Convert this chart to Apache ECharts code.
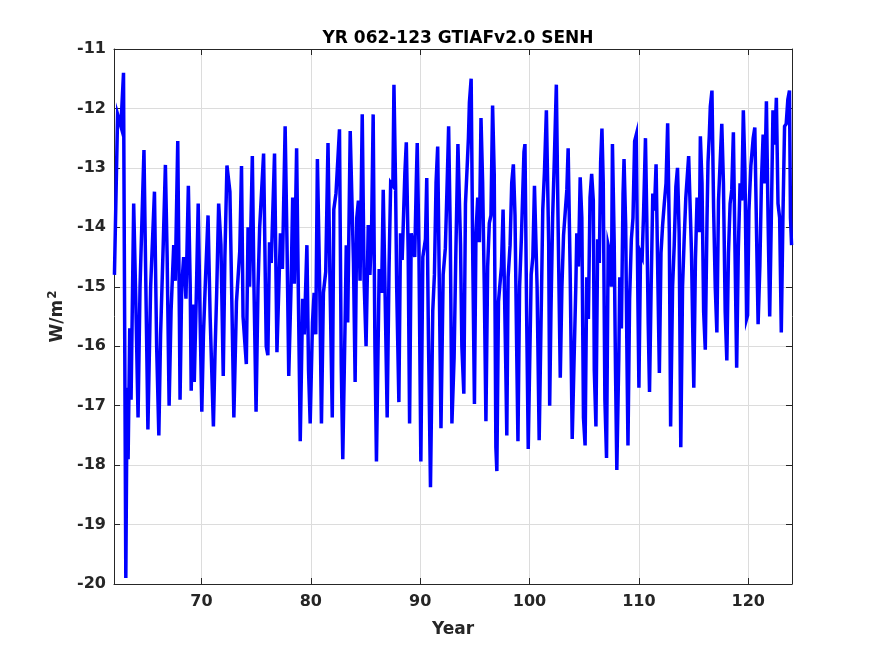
<!DOCTYPE html>
<html>
<head>
<meta charset="utf-8">
<script src="https://cdn.jsdelivr.net/npm/echarts@6/dist/echarts.min.js"></script>
<style>html,body{margin:0;padding:0;background:#fff}#c{width:875px;height:656px}</style>
</head>
<body>
<div id="c"></div>
<script>
var titleText = 'YR 062-123 GTIAFv2.0 SENH';
var xTicks = [70, 80, 90, 100, 110, 120];
var yTicks = [-20, -19, -18, -17, -16, -15, -14, -13, -12, -11];

var years = [
62.04,62.33,62.63,62.87,63.08,63.2,63.29,63.44,63.56,63.8,64.0,64.2,64.38,64.74,64.93,65.1,65.35,65.7,65.9,66.1,
66.26,66.5,66.7,66.86,67.04,67.22,67.46,67.6,67.83,67.98,68.04,68.19,68.37,68.58,68.8,68.97,69.06,69.21,69.34,69.52,
69.7,69.88,70.03,70.18,70.36,70.6,70.79,71.09,71.24,71.39,71.57,71.78,71.99,72.14,72.33,72.6,72.96,73.2,73.5,73.66,
73.8,74.1,74.26,74.4,74.65,74.8,74.99,75.17,75.32,75.68,75.92,76.07,76.22,76.38,76.68,76.9,77.07,77.22,77.4,77.65,
77.83,77.98,78.19,78.34,78.49,78.7,78.85,79.03,79.25,79.4,79.64,79.79,79.94,80.15,80.3,80.45,80.6,80.82,80.97,81.15,
81.36,81.57,81.75,81.96,82.1,82.3,82.62,82.78,82.92,83.15,83.24,83.37,83.6,83.9,84.05,84.2,84.35,84.5,84.7,84.87,
85.05,85.25,85.4,85.55,85.7,85.86,86.0,86.25,86.47,86.62,86.77,86.98,87.15,87.3,87.5,87.6,87.75,87.85,88.05,88.2,
88.35,88.6,88.73,88.9,89.03,89.18,89.5,89.64,89.73,89.88,90.06,90.24,90.48,90.6,90.75,90.94,91.15,91.3,91.45,91.6,
91.75,91.9,92.1,92.3,92.5,92.6,92.75,92.9,93.1,93.26,93.45,93.69,93.81,93.99,94.14,94.29,94.41,94.5,94.66,94.8,
94.96,95.1,95.26,95.41,95.56,95.71,95.86,96.01,96.17,96.32,96.47,96.62,96.77,96.92,97.01,97.16,97.28,97.43,97.58,97.67,
97.83,97.92,98.04,98.22,98.37,98.52,98.67,98.82,98.94,99.09,99.25,99.49,99.58,99.73,99.88,100.03,100.15,100.3,100.45,100.57,
100.69,100.88,101.06,101.21,101.36,101.54,101.75,101.84,101.96,102.11,102.26,102.45,102.6,102.81,102.96,103.11,103.26,103.41,103.53,103.71,
103.9,104.23,104.32,104.47,104.63,104.78,104.93,105.08,105.23,105.38,105.53,105.68,105.83,105.92,106.07,106.23,106.38,106.5,106.62,106.74,
106.89,107.04,107.19,107.34,107.49,107.58,107.74,107.86,107.98,108.16,108.25,108.4,108.55,108.64,108.79,108.91,109.0,109.15,109.31,109.46,
109.61,109.76,109.91,110.0,110.15,110.3,110.42,110.6,110.72,110.85,110.97,111.12,111.27,111.42,111.57,111.72,111.87,112.02,112.17,112.32,
112.48,112.63,112.78,112.9,113.08,113.23,113.38,113.53,113.68,113.83,113.99,114.14,114.29,114.55,114.81,114.93,115.02,115.17,115.32,115.53,
115.62,115.77,115.92,116.07,116.23,116.32,116.44,116.53,116.68,116.83,116.98,117.13,117.28,117.43,117.58,117.73,117.89,118.04,118.19,118.34,
118.49,118.64,118.79,118.94,119.09,119.25,119.4,119.55,119.7,119.85,119.94,120.06,120.24,120.45,120.6,120.75,120.9,121.06,121.21,121.36,
121.51,121.66,121.81,121.96,122.11,122.26,122.42,122.57,122.72,122.87,123.02,123.17,123.32,123.47,123.62,123.77,123.86,123.96
];

var senh = [
-14.8,-12.1,-12.3,-11.4,-19.9,-16.7,-17.9,-15.7,-16.9,-13.6,-15.3,-17.2,-15.0,-12.7,-15.2,-17.4,-15.0,-13.4,-16.0,-17.5,
-15.8,-14.3,-12.95,-14.5,-17.0,-15.4,-14.3,-14.9,-12.55,-15.5,-16.9,-15.0,-14.5,-15.2,-13.3,-15.0,-16.75,-15.3,-16.6,-15.2,
-13.6,-15.6,-17.1,-15.8,-14.9,-13.8,-15.5,-17.35,-16.1,-15.1,-13.6,-14.3,-16.5,-14.5,-12.96,-13.4,-17.2,-15.25,-14.4,-12.97,
-15.5,-16.3,-14.0,-15.0,-12.8,-15.0,-17.1,-15.0,-14.0,-12.76,-16.0,-16.15,-14.25,-14.6,-12.76,-16.1,-16.1,-14.1,-14.7,-12.3,
-14.4,-16.5,-15.0,-13.5,-14.95,-12.67,-15.0,-17.6,-15.2,-15.8,-14.3,-16.4,-17.3,-15.6,-15.1,-15.8,-12.85,-15.1,-17.3,-15.1,
-14.75,-12.58,-14.9,-17.2,-13.7,-13.43,-12.35,-16.3,-17.9,-15.4,-14.3,-15.6,-12.38,-14.6,-16.6,-13.84,-13.55,-14.9,-12.1,-14.9,
-16.0,-13.96,-14.8,-14.1,-12.1,-16.0,-17.94,-14.7,-15.1,-13.37,-14.9,-17.2,-14.7,-13.25,-13.3,-11.6,-13.3,-15.0,-16.94,-14.1,
-14.55,-13.08,-12.57,-14.4,-17.3,-14.1,-14.5,-13.25,-12.58,-14.3,-17.94,-14.5,-14.2,-13.17,-15.8,-18.37,-15.4,-14.8,-13.25,-12.64,
-15.0,-17.38,-14.8,-14.35,-13.02,-12.3,-14.1,-17.3,-16.2,-14.43,-12.6,-14.3,-16.0,-16.8,-13.6,-13.0,-12.5,-11.9,-11.5,-14.4,
-16.97,-14.1,-13.5,-14.25,-12.16,-13.25,-15.0,-17.26,-14.66,-13.93,-13.8,-11.95,-13.1,-17.7,-18.1,-15.25,-15.25,-14.66,-13.7,-13.7,
-16.4,-17.5,-14.84,-14.3,-13.25,-12.94,-13.8,-16.0,-17.6,-15.0,-14.2,-12.73,-12.6,-15.4,-17.73,-16.1,-14.8,-14.5,-13.3,-13.28,
-15.0,-17.58,-15.5,-13.7,-13.08,-12.03,-14.28,-17.0,-15.4,-13.84,-12.9,-11.6,-13.8,-16.53,-15.0,-14.13,-14.13,-13.37,-12.67,-14.7,
-17.56,-15.0,-14.1,-14.66,-13.16,-13.84,-17.2,-17.67,-14.84,-15.54,-13.5,-13.1,-13.55,-16.4,-17.35,-14.2,-14.6,-12.9,-12.34,-13.26,
-16.9,-17.88,-14.3,-14.43,-15.0,-12.6,-14.25,-16.4,-18.08,-16.2,-14.84,-15.7,-13.43,-12.85,-13.96,-16.2,-17.67,-15.2,-14.2,-13.84,
-12.55,-12.44,-15.25,-16.7,-14.43,-14.5,-13.8,-12.5,-13.84,-15.6,-16.77,-15.0,-13.43,-13.72,-12.94,-14.72,-16.45,-14.43,-13.96,-13.6,
-13.26,-12.25,-14.1,-17.35,-15.0,-14.3,-13.32,-13.0,-14.1,-17.7,-15.0,-14.2,-13.5,-12.8,-14.43,-15.8,-16.7,-14.54,-13.5,-14.08,
-12.47,-13.26,-15.42,-16.06,-13.84,-12.9,-12.44,-11.97,-11.7,-13.67,-15.0,-15.77,-13.55,-12.9,-12.26,-13.26,-15.42,-16.24,-14.43,-13.6,
-13.37,-12.4,-14.43,-16.36,-14.37,-13.26,-13.55,-12.03,-13.08,-15.54,-15.48,-13.72,-12.96,-12.5,-12.32,-14.0,-15.63,-14.66,-13.2,-12.44,
-13.26,-11.88,-13.84,-15.5,-13.84,-12.03,-12.61,-11.82,-13.6,-13.84,-15.77,-13.84,-12.3,-12.26,-11.85,-11.7,-13.84,-14.3
];

var seriesData = years.map(function (y, i) { return [y, senh[i]]; });

var axisColor = '#262626';
var chart = echarts.init(document.getElementById('c'), null, {renderer: 'canvas'});
var labelFont = {color: axisColor, fontFamily: 'DejaVu Sans', fontWeight: 'bold', fontSize: 16};

chart.setOption({
  animation: false,
  backgroundColor: '#ffffff',
  title: {
    text: titleText, left: 453, top: 25, textAlign: 'center',
    textStyle: {color: '#000', fontFamily: 'DejaVu Sans', fontWeight: 'bold', fontSize: 17}
  },
  grid: {left: 114, right: 83, top: 49, bottom: 72, containLabel: false},
  xAxis: [{
    type: 'value', min: 62, max: 124,
    name: 'Year', nameLocation: 'middle', nameGap: 37,
    nameTextStyle: {color: axisColor, fontFamily: 'DejaVu Sans', fontWeight: 'bold', fontSize: 17},
    axisLine: {show: true, onZero: false, lineStyle: {color: axisColor, width: 1}},
    axisTick: {show: true, inside: true, length: 6, customValues: xTicks, lineStyle: {color: axisColor}},
    axisLabel: Object.assign({customValues: xTicks, margin: 10}, labelFont),
    splitLine: {show: true, lineStyle: {color: '#dcdcdc', width: 1}}
  }, {
    type: 'value', min: 62, max: 124, position: 'top',
    axisLine: {show: true, onZero: false, lineStyle: {color: axisColor, width: 1}},
    axisTick: {show: true, inside: true, length: 6, customValues: xTicks, lineStyle: {color: axisColor}},
    axisLabel: {show: false},
    splitLine: {show: false}
  }],
  yAxis: [{
    type: 'value', min: -20, max: -11, interval: 1,
    name: 'W/m{sup|2}', nameLocation: 'middle', nameGap: 43, nameRotate: 90,
    nameTextStyle: {
      color: axisColor, fontFamily: 'DejaVu Sans', fontWeight: 'bold', fontSize: 17,
      rich: {sup: {color: axisColor, fontFamily: 'DejaVu Sans', fontWeight: 'bold', fontSize: 12, padding: [0, 0, 10, 1]}}
    },
    axisLine: {show: true, onZero: false, lineStyle: {color: axisColor, width: 1}},
    axisTick: {show: true, inside: true, length: 6, lineStyle: {color: axisColor}},
    axisLabel: Object.assign({margin: 8}, labelFont),
    splitLine: {show: true, lineStyle: {color: '#dcdcdc', width: 1}}
  }, {
    type: 'value', min: -20, max: -11, interval: 1, position: 'right',
    axisLine: {show: true, onZero: false, lineStyle: {color: axisColor, width: 1}},
    axisTick: {show: true, inside: true, length: 6, lineStyle: {color: axisColor}},
    axisLabel: {show: false},
    splitLine: {show: false}
  }],
  series: [{
    type: 'line', xAxisIndex: 0, yAxisIndex: 0,
    data: seriesData, showSymbol: false, symbol: 'none',
    lineStyle: {color: '#0000ff', width: 3.5, join: 'miter'},
    itemStyle: {color: '#0000ff'}
  }]
});
</script>
</body>
</html>
